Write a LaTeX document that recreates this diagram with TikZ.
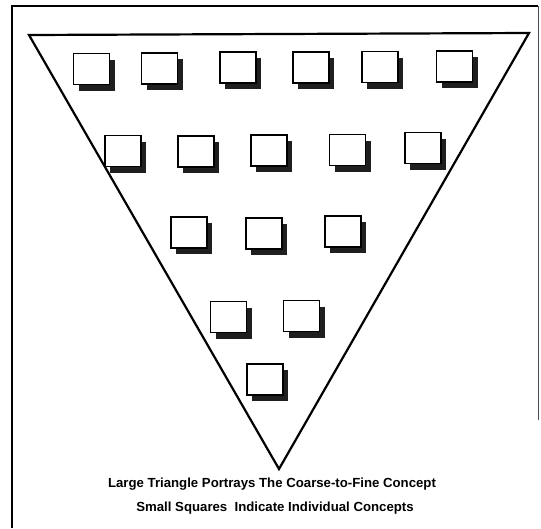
\documentclass[tikz,border=0pt]{standalone}
\usepackage{fontspec}
\setmainfont{Liberation Sans}
\usetikzlibrary{shadows}
\begin{document}
\begin{tikzpicture}[x=1pt,y=-1pt,
  sq/.style={draw=black, fill=white, line width=1.6pt, minimum width=36pt, minimum height=31pt, inner sep=0pt,
    drop shadow={shadow xshift=5pt, shadow yshift=-6pt, opacity=1, fill=black!88}},
  frameline/.style={line width=1.3pt, black},
  triline/.style={line width=2.2pt, black, line join=miter},
  captext/.style={font=\bfseries\fontsize{13.2}{15}\selectfont, anchor=base, inner sep=0pt}]
\useasboundingbox (0,0) rectangle (541,528);
% outer frame
\coordinate (fbl) at (12,528);
\coordinate (ftl) at (12,6);
\coordinate (ftr) at (538,6);
\coordinate (fbr) at (538,420);
\draw[frameline] (fbl) -- (ftl) -- (ftr);
\draw[line width=1pt, black!70] (ftr) -- (fbr);
% large triangle
\coordinate (ta) at (29,35);
\coordinate (tb) at (529,33);
\coordinate (tc) at (279,469);
\draw[triline] (ta) -- (tb) -- (tc) -- cycle;
% row 1
\node[sq] (s11) at (91.6,69) {};
\node[sq] (s12) at (159.6,68.7) {};
\node[sq] (s13) at (238,67.5) {};
\node[sq] (s14) at (311,67.7) {};
\node[sq] (s15) at (380,67) {};
\node[sq] (s16) at (454.5,66.2) {};
% row 2
\node[sq] (s21) at (123,151) {};
\node[sq] (s22) at (196,151.5) {};
\node[sq] (s23) at (269,150.5) {};
\node[sq] (s24) at (347.5,150) {};
\node[sq] (s25) at (423,148) {};
% row 3
\node[sq] (s31) at (189,232.5) {};
\node[sq] (s32) at (264,233.5) {};
\node[sq] (s33) at (343,231.5) {};
% row 4
\node[sq] (s41) at (228.5,317) {};
\node[sq] (s42) at (301.5,316) {};
% row 5
\node[sq] (s51) at (265,379.5) {};
% caption
\node[captext] (c1) at (272,487) {Large Triangle Portrays The Coarse-to-Fine Concept};
\node[captext] (c2) at (275,511) {Small Squares\ \ Indicate Individual Concepts};
\end{tikzpicture}
\end{document}
